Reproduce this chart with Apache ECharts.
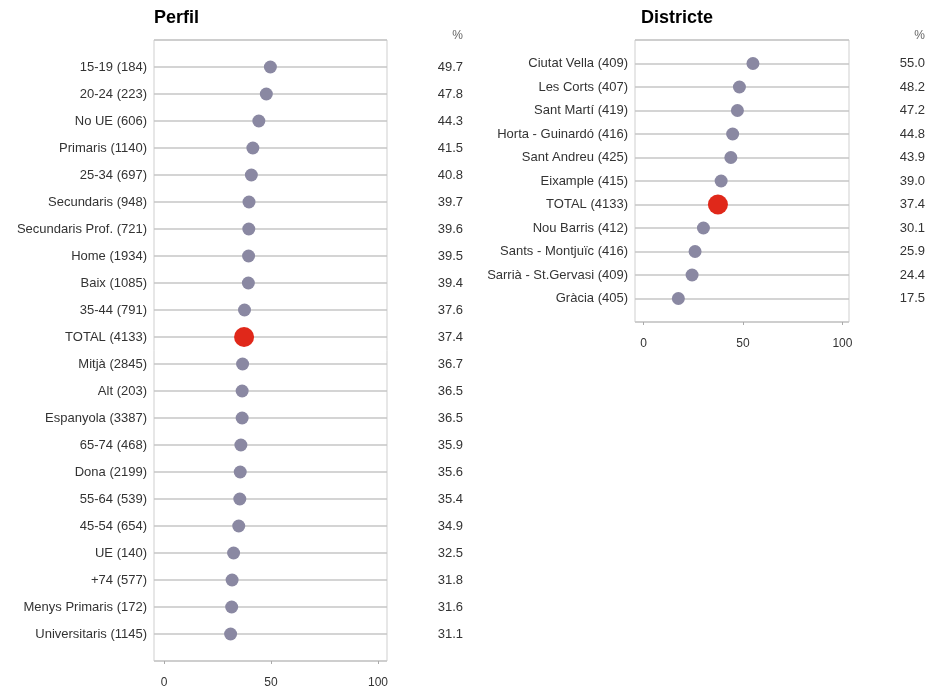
<!DOCTYPE html>
<html><head><meta charset="utf-8">
<script src="https://cdn.jsdelivr.net/npm/echarts@6/dist/echarts.min.js"></script>
<style>html,body{margin:0;padding:0;background:#fff}#c{width:930px;height:689px}</style>
</head><body><div id="c"></div>
<script>
const perfilCats = ['15-19 (184)','20-24 (223)','No UE (606)','Primaris (1140)','25-34 (697)','Secundaris (948)','Secundaris Prof. (721)','Home (1934)','Baix (1085)','35-44 (791)','TOTAL (4133)','Mitjà (2845)','Alt (203)','Espanyola (3387)','65-74 (468)','Dona (2199)','55-64 (539)','45-54 (654)','UE (140)','+74 (577)','Menys Primaris (172)','Universitaris (1145)'];
const perfilVals = [49.7,47.8,44.3,41.5,40.8,39.7,39.6,39.5,39.4,37.6,37.4,36.7,36.5,36.5,35.9,35.6,35.4,34.9,32.5,31.8,31.6,31.1];
const districteCats = ['Ciutat Vella (409)','Les Corts (407)','Sant Martí (419)','Horta - Guinardó (416)','Sant Andreu (425)','Eixample (415)','TOTAL (4133)','Nou Barris (412)','Sants - Montjuïc (416)','Sarrià - St.Gervasi (409)','Gràcia (405)'];
const districteVals = [55.0,48.2,47.2,44.8,43.9,39.0,37.4,30.1,25.9,24.4,17.5];
const xTicks = [0,50,100];

const FONT = 'Liberation Sans, Arial, sans-serif';
const DOT = '#8a88a2', TOT = '#e0281a';

function pts(cats, vals){
  return vals.map((v,i)=>{
    const tot = cats[i].indexOf('TOTAL')===0;
    return {value:[v,i+1], symbolSize: tot?20:13, itemStyle:{color: tot?TOT:DOT, opacity:1}};
  });
}
function padded(arr){ return [' '].concat(arr).concat(['  ']); }

function xAxis(gi, min, max){
  return {type:'value', gridIndex:gi, min:min, max:max,
    axisLine:{show:false}, splitLine:{show:false},
    axisTick:{show:true, customValues:xTicks, length:3, lineStyle:{color:'#aaa'}},
    axisLabel:{customValues:xTicks, margin:16, fontSize:12, color:'#333', fontFamily:FONT}};
}
function yLeft(gi, cats){
  return {type:'category', gridIndex:gi, inverse:true, boundaryGap:false, data:padded(cats),
    axisLine:{show:false}, axisTick:{show:false},
    axisLabel:{interval:0, fontSize:13, color:'#333', margin:7, fontFamily:FONT},
    splitLine:{show:true, lineStyle:{color:'#c6c6c6', width:1.5}}};
}
function yRight(gi, vals){
  return {type:'category', gridIndex:gi, position:'right', inverse:true, boundaryGap:false,
    data:padded(vals.map(v=>v.toFixed(1))),
    axisLine:{show:false}, axisTick:{show:false}, splitLine:{show:false},
    axisLabel:{interval:0, fontSize:13, color:'#333', margin:76, align:'right', fontFamily:FONT}};
}

const chart = echarts.init(document.getElementById('c'));
chart.setOption({
  animation:false,
  backgroundColor:'#fff',
  title:[
    {text:'Perfil', left:149, top:4, textStyle:{fontSize:18, fontWeight:'bold', color:'#000', fontFamily:FONT}},
    {text:'Districte', left:636, top:4, textStyle:{fontSize:18, fontWeight:'bold', color:'#000', fontFamily:FONT}},
    {text:'%', right:462, top:25, textStyle:{fontSize:12, fontWeight:'normal', color:'#666', fontFamily:FONT}},
    {text:'%', right:0, top:25, textStyle:{fontSize:12, fontWeight:'normal', color:'#666', fontFamily:FONT}}
  ],
  grid:[
    {left:154, top:40, width:233, height:621, show:true, borderColor:'#cfcfcf', borderWidth:1},
    {left:635, top:40, width:214, height:282, show:true, borderColor:'#cfcfcf', borderWidth:1}
  ],
  xAxis:[xAxis(0,-4.7,104.2), xAxis(1,-4.3,103.3)],
  yAxis:[yLeft(0,perfilCats), yRight(0,perfilVals), yLeft(1,districteCats), yRight(1,districteVals)],
  series:[
    {type:'scatter', xAxisIndex:0, yAxisIndex:0, data:pts(perfilCats,perfilVals), symbol:'circle'},
    {type:'scatter', xAxisIndex:1, yAxisIndex:2, data:pts(districteCats,districteVals), symbol:'circle'}
  ]
});
</script></body></html>
